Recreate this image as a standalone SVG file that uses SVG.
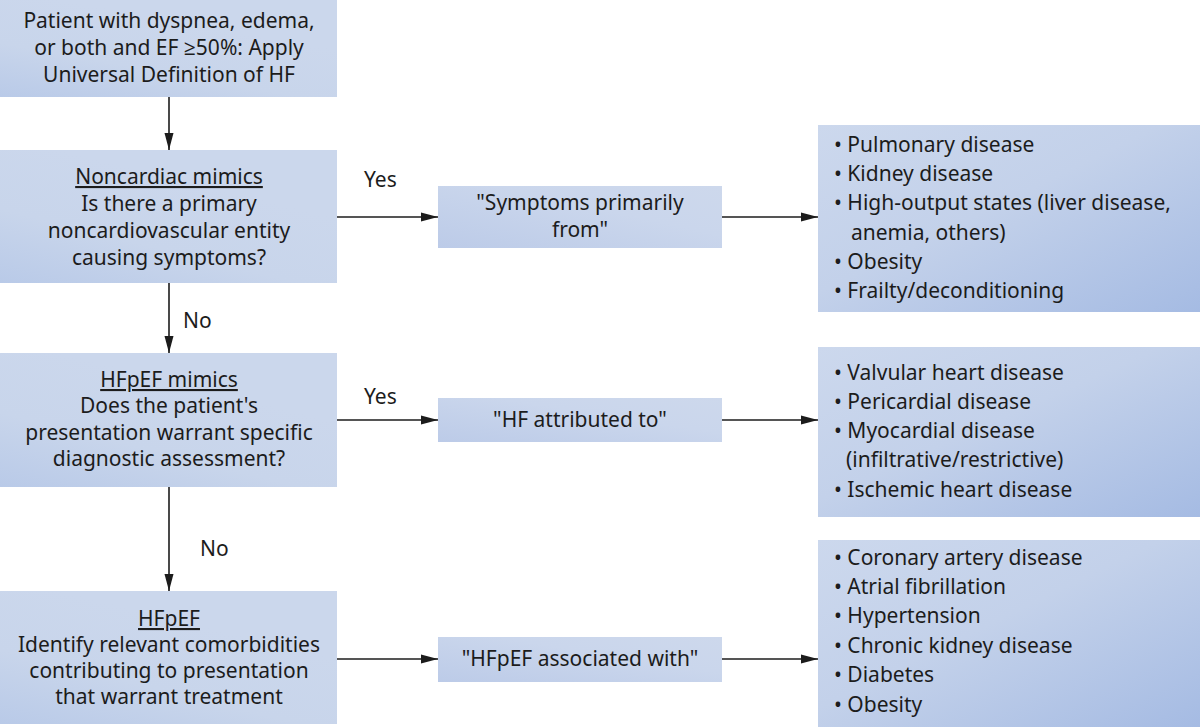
<svg xmlns="http://www.w3.org/2000/svg" width="1200" height="727" viewBox="0 0 1200 727">
<style>
text{font-family:"Noto Sans","Open Sans","DejaVu Sans",sans-serif;font-size:21px;fill:#1c1c1c}
.c{text-anchor:middle}
.u{text-decoration:underline}
.ln{stroke:#1c1c1c;stroke-width:1.6;fill:none}
</style>
<defs>
<linearGradient id="gL" x1="0" y1="1" x2="0.5" y2="0.2">
<stop offset="0" stop-color="#b9cae8"/>
<stop offset="0.5" stop-color="#c8d5eb"/>
<stop offset="1" stop-color="#cbd7ec"/>
</linearGradient>
<linearGradient id="gM" x1="0" y1="1" x2="1" y2="0">
<stop offset="0" stop-color="#bccbe8"/>
<stop offset="0.6" stop-color="#cad6ec"/>
<stop offset="1" stop-color="#cdd8ec"/>
</linearGradient>
<linearGradient id="gR" x1="0" y1="0" x2="1" y2="1">
<stop offset="0" stop-color="#ccd8ed"/>
<stop offset="0.45" stop-color="#c3d1ea"/>
<stop offset="1" stop-color="#a5bbe3"/>
</linearGradient>
<marker id="ah" markerUnits="userSpaceOnUse" markerWidth="18" markerHeight="10" refX="17" refY="5" orient="auto">
<path d="M0,0.5 L17,5 L0,9.5 z" fill="#1c1c1c"/>
</marker>
</defs>

<g id="connectors">
<line class="ln" x1="169" y1="97" x2="169" y2="150" marker-end="url(#ah)"/>
<line class="ln" x1="169" y1="283" x2="169" y2="353" marker-end="url(#ah)"/>
<line class="ln" x1="169" y1="487" x2="169" y2="591" marker-end="url(#ah)"/>
<line class="ln" x1="337" y1="217" x2="438" y2="217" marker-end="url(#ah)"/>
<line class="ln" x1="722" y1="217" x2="818" y2="217" marker-end="url(#ah)"/>
<line class="ln" x1="337" y1="420" x2="438" y2="420" marker-end="url(#ah)"/>
<line class="ln" x1="722" y1="420" x2="818" y2="420" marker-end="url(#ah)"/>
<line class="ln" x1="337" y1="659" x2="438" y2="659" marker-end="url(#ah)"/>
<line class="ln" x1="722" y1="659" x2="818" y2="659" marker-end="url(#ah)"/>
<text x="364" y="187">Yes</text>
<text x="364" y="404">Yes</text>
<text x="183" y="328">No</text>
<text x="200" y="556">No</text>
</g>

<g id="start">
<rect x="0" y="0" width="337" height="97" fill="url(#gL)"/>
<text class="c" x="169" y="28">Patient with dyspnea, edema,</text>
<text class="c" x="169" y="55">or both and EF ≥50%: Apply</text>
<text class="c" x="169" y="82">Universal Definition of HF</text>
</g>

<g id="noncardiac">
<rect x="0" y="150" width="337" height="133" fill="url(#gL)"/>
<text class="c u" x="169" y="184">Noncardiac mimics</text>
<text class="c" x="169" y="211">Is there a primary</text>
<text class="c" x="169" y="238">noncardiovascular entity</text>
<text class="c" x="169" y="265">causing symptoms?</text>
</g>

<g id="hfpef-mimics">
<rect x="0" y="353" width="337" height="134" fill="url(#gL)"/>
<text class="c u" x="169" y="387">HFpEF mimics</text>
<text class="c" x="169" y="413">Does the patient's</text>
<text class="c" x="169" y="440">presentation warrant specific</text>
<text class="c" x="169" y="466">diagnostic assessment?</text>
</g>

<g id="hfpef">
<rect x="0" y="591" width="337" height="133" fill="url(#gL)"/>
<text class="c u" x="169" y="626">HFpEF</text>
<text class="c" x="169" y="652">Identify relevant comorbidities</text>
<text class="c" x="169" y="678">contributing to presentation</text>
<text class="c" x="169" y="704">that warrant treatment</text>
</g>

<g id="symptoms-from">
<rect x="438" y="186" width="284" height="62" fill="url(#gM)"/>
<text class="c" x="580" y="210">"Symptoms primarily</text>
<text class="c" x="580" y="237">from"</text>
</g>

<g id="hf-attributed">
<rect x="438" y="398" width="284" height="44" fill="url(#gM)"/>
<text class="c" x="580" y="427">"HF attributed to"</text>
</g>

<g id="hfpef-associated">
<rect x="438" y="637" width="284" height="45" fill="url(#gM)"/>
<text class="c" x="580" y="666">"HFpEF associated with"</text>
</g>

<g id="list-noncardiac">
<rect x="818" y="125" width="382" height="187" fill="url(#gR)"/>
<text x="834" y="152">• Pulmonary disease</text>
<text x="834" y="181">• Kidney disease</text>
<text x="834" y="210">• High-output states (liver disease,</text>
<text x="851" y="240">anemia, others)</text>
<text x="834" y="269">• Obesity</text>
<text x="834" y="298">• Frailty/deconditioning</text>
</g>

<g id="list-mimics">
<rect x="818" y="347" width="382" height="170" fill="url(#gR)"/>
<text x="834" y="380">• Valvular heart disease</text>
<text x="834" y="409">• Pericardial disease</text>
<text x="834" y="438">• Myocardial disease</text>
<text x="846" y="467">(infiltrative/restrictive)</text>
<text x="834" y="497">• Ischemic heart disease</text>
</g>

<g id="list-comorbidities">
<rect x="818" y="540" width="382" height="187" fill="url(#gR)"/>
<text x="834" y="565">• Coronary artery disease</text>
<text x="834" y="594">• Atrial fibrillation</text>
<text x="834" y="623">• Hypertension</text>
<text x="834" y="653">• Chronic kidney disease</text>
<text x="834" y="682">• Diabetes</text>
<text x="834" y="712">• Obesity</text>
</g>
</svg>
